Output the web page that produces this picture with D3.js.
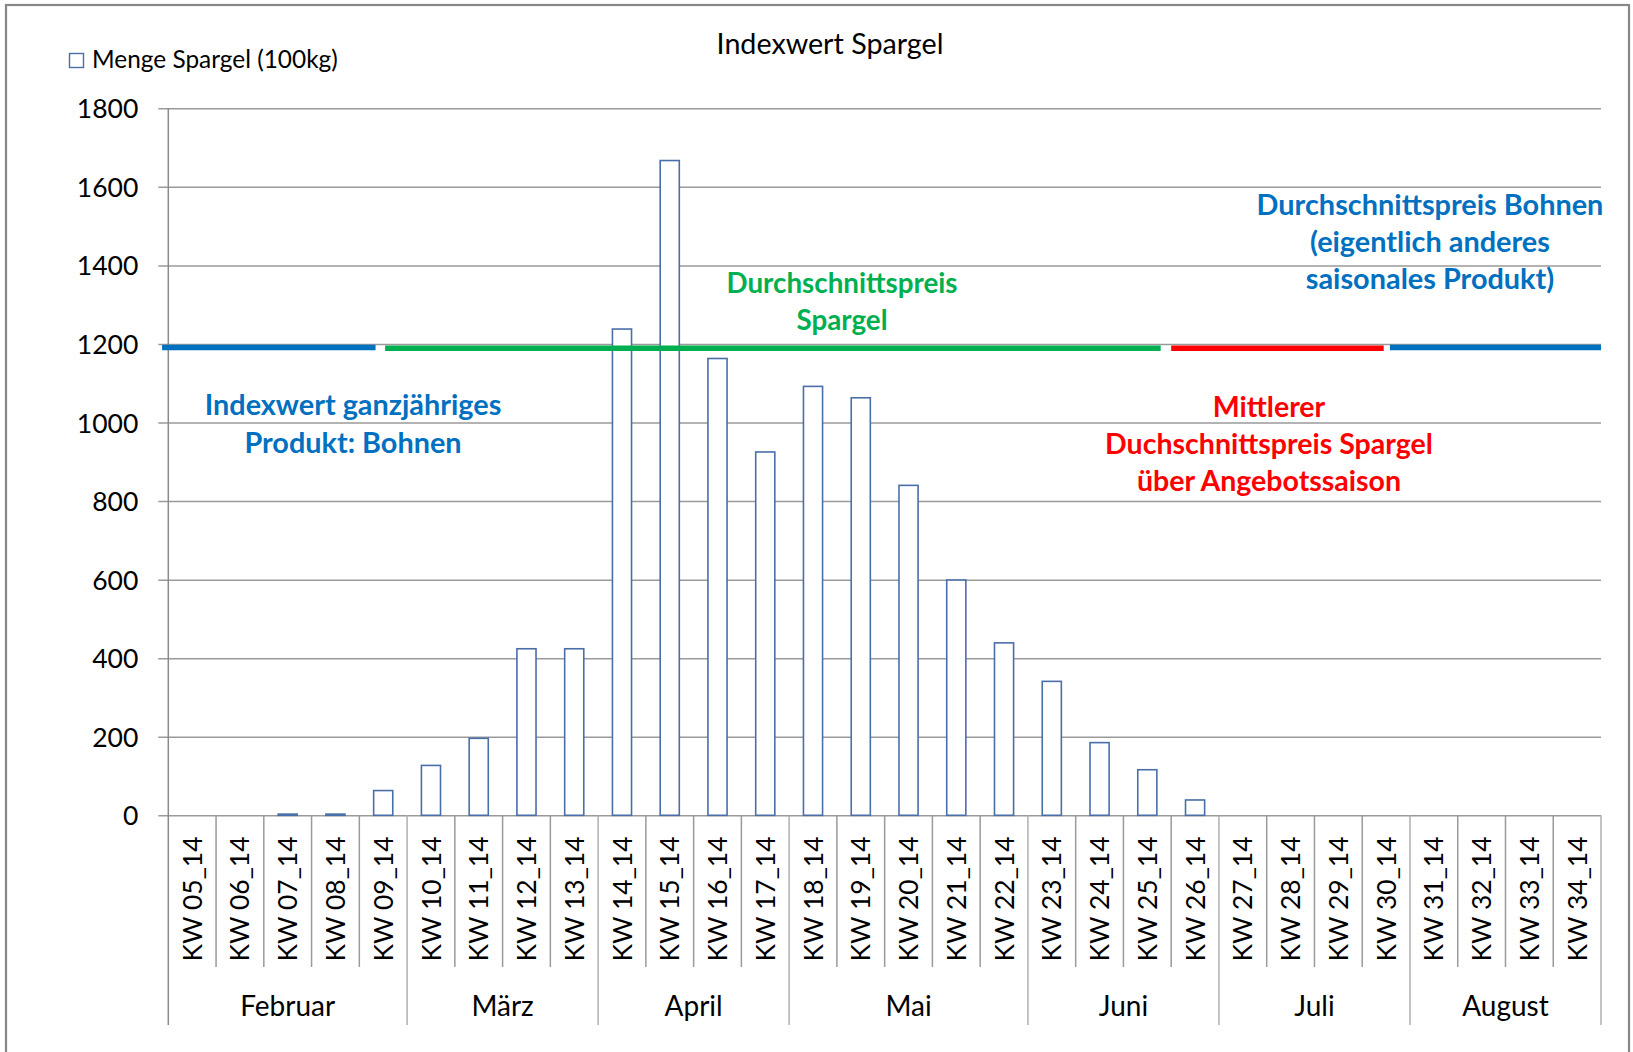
<!DOCTYPE html>
<html>
<head>
<meta charset="utf-8">
<script src="https://cdn.jsdelivr.net/npm/d3@7"></script>
<style>
  html, body { margin: 0; padding: 0; background: #fff; }
  svg { display: block; }
  text { font-family: Lato, "Open Sans", sans-serif; fill: #000; }
</style>
</head>
<body>
<svg id="chart" width="1633" height="1052"></svg>
<script>
// ---------------- DATA ----------------
const chartTitle = "Indexwert Spargel";
const legendLabel = "Menge Spargel (100kg)";
const categories = ["KW 05_14","KW 06_14","KW 07_14","KW 08_14","KW 09_14","KW 10_14","KW 11_14","KW 12_14","KW 13_14","KW 14_14","KW 15_14","KW 16_14","KW 17_14","KW 18_14","KW 19_14","KW 20_14","KW 21_14","KW 22_14","KW 23_14","KW 24_14","KW 25_14","KW 26_14","KW 27_14","KW 28_14","KW 29_14","KW 30_14","KW 31_14","KW 32_14","KW 33_14","KW 34_14"];
const mengeValues = [0,0,3,3,63,127,196,424,424,1238,1667,1163,925,1092,1063,840,599,439,341,185,116,39,0,0,0,0,0,0,0,0];
const months = ["Februar","März","April","Mai","Juni","Juli","August"];
const monthWeekCounts = [5,4,4,5,4,4,4];
const yTicks = [0,200,400,600,800,1000,1200,1400,1600,1800];

// price reference segments (category-index units, value units)
const segStart = [-0.13, 4.54, 21.0, 25.58];
const segEnd   = [4.34, 20.78, 25.45, 30.0];
const segValue = [1191, 1189, 1189, 1191];
const segColor = ["#0070C0","#00B050","#FF0000","#0070C0"];

// annotations
const annoLines = [
  ["Durchschnittspreis Bohnen","(eigentlich anderes","saisonales Produkt)"],
  ["Durchschnittspreis","Spargel"],
  ["Indexwert ganzjähriges","Produkt: Bohnen"],
  ["Mittlerer","Duchschnittspreis Spargel","über Angebotssaison"]
];
const annoColor = ["#0070C0","#00B050","#0070C0","#FF0000"];

// ---------------- LAYOUT ----------------
const L = { left: 168.3, right: 1601, top: 108.3, bottom: 815.3 };
const svg = d3.select("#chart");

function fitSize(text, weight, target) {
  const t = svg.append("text").attr("font-size", 100).attr("font-weight", weight).text(text);
  const w = t.node().getComputedTextLength();
  t.remove();
  return 100 * target / w;
}

const y = d3.scaleLinear().domain([0, 1800]).range([L.bottom, L.top]);
const x = d3.scaleBand().domain(categories).range([L.left, L.right]).paddingInner(0.6).paddingOuter(0.3);
const xi = d3.scaleLinear().domain([0, categories.length]).range([L.left, L.right]);

// outer border
svg.append("rect").attr("x", 6).attr("y", 5).attr("width", 1623).attr("height", 1070)
  .attr("fill", "none").attr("stroke", "#878787").attr("stroke-width", 2.2);

// gridlines + y axis
const yAxis = d3.axisLeft(y).tickValues(yTicks).tickFormat(d3.format("d"))
  .tickSize(-(L.right - L.left)).tickPadding(30).tickSizeOuter(0);
const yG = svg.append("g").attr("transform", `translate(${L.left},0)`).call(yAxis);
yG.select(".domain").remove();
yG.selectAll(".tick line").attr("stroke", "#9a9a9a").attr("stroke-width", 1.5).attr("x1", -10);
const tickSize = fitSize("1800", 400, 61.5);
yG.selectAll(".tick text").attr("font-size", tickSize).attr("fill", "#000")
  .attr("font-family", "Lato, sans-serif").attr("dy", "0.36em");

// y axis line
svg.append("line").attr("x1", L.left).attr("x2", L.left).attr("y1", L.top).attr("y2", 1025)
  .attr("stroke", "#8a8a8a").attr("stroke-width", 1.5);

// category tick lines
const bounds = d3.range(1, categories.length);
const monthBounds = Array.from(d3.cumsum(monthWeekCounts));
svg.append("g").selectAll("line").data(bounds).join("line")
  .attr("x1", d => xi(d)).attr("x2", d => xi(d))
  .attr("y1", L.bottom).attr("y2", d => monthBounds.includes(d) ? 1025 : 967)
  .attr("stroke", d => monthBounds.includes(d) ? "#b0b0b0" : "#9a9a9a").attr("stroke-width", 1.5);
svg.append("line").attr("x1", L.right).attr("x2", L.right).attr("y1", L.bottom).attr("y2", 1025)
  .attr("stroke", "#b0b0b0").attr("stroke-width", 1.5);

// bars
const barData = categories.map((c, i) => ({ cat: c, v: mengeValues[i] })).filter(d => d.v > 0);
svg.append("g").selectAll("rect").data(barData).join("rect")
  .attr("x", d => x(d.cat))
  .attr("y", d => y(d.v))
  .attr("width", x.bandwidth())
  .attr("height", d => y(0) - y(d.v))
  .attr("fill", "#fff").attr("stroke", "#4a6fa8").attr("stroke-width", 1.6);

// segments
svg.append("g").selectAll("line").data(segStart).join("line")
  .attr("x1", (d, i) => xi(segStart[i])).attr("x2", (d, i) => xi(segEnd[i]))
  .attr("y1", (d, i) => y(segValue[i])).attr("y2", (d, i) => y(segValue[i]))
  .attr("stroke", (d, i) => segColor[i]).attr("stroke-width", 5.5);

// KW labels (rotated)
const kwSize = fitSize("KW 05_14", 400, 125);
svg.append("g").selectAll("text").data(categories).join("text")
  .attr("transform", (d, i) => `translate(${xi(i + 0.5)},836.5) rotate(-90)`)
  .attr("text-anchor", "end").attr("dy", "0.36em")
  .attr("font-size", kwSize).text(d => d);

// month labels
const monthStarts = [0, ...monthBounds.slice(0, -1)];
const monthSize = fitSize("Februar", 400, 95);
svg.append("g").selectAll("text").data(months).join("text")
  .attr("x", (d, i) => xi(monthStarts[i] + monthWeekCounts[i] / 2))
  .attr("y", 1016).attr("text-anchor", "middle")
  .attr("font-size", monthSize).text(d => d);

// title
svg.append("text").attr("x", 830).attr("y", 54).attr("text-anchor", "middle")
  .attr("font-size", fitSize(chartTitle, 400, 227)).text(chartTitle);

// legend
svg.append("rect").attr("x", 69.5).attr("y", 53.5).attr("width", 14).attr("height", 14)
  .attr("fill", "#fff").attr("stroke", "#4a6fa8").attr("stroke-width", 1.4);
svg.append("text").attr("x", 92).attr("y", 68).attr("font-size", fitSize(legendLabel, 400, 246)).text(legendLabel);

// annotations
const annoCx = [1430, 842, 353, 1269];
const annoY0 = [215, 292.5, 414.5, 416.5];
const annoStep = [37, 37, 38, 37];
const annoRefWidth = [347, 231, 296.7, 328];
const annoRefLine = [0, 0, 0, 1];
annoLines.forEach((lines, k) => {
  const fs = fitSize(lines[annoRefLine[k]], 700, annoRefWidth[k]);
  svg.append("g").selectAll("text").data(lines).join("text")
    .attr("x", annoCx[k]).attr("y", (d, j) => annoY0[k] + j * annoStep[k])
    .attr("text-anchor", "middle").attr("font-weight", 700)
    .attr("font-size", fs).style("fill", annoColor[k]).text(d => d);
});
</script>
</body>
</html>
